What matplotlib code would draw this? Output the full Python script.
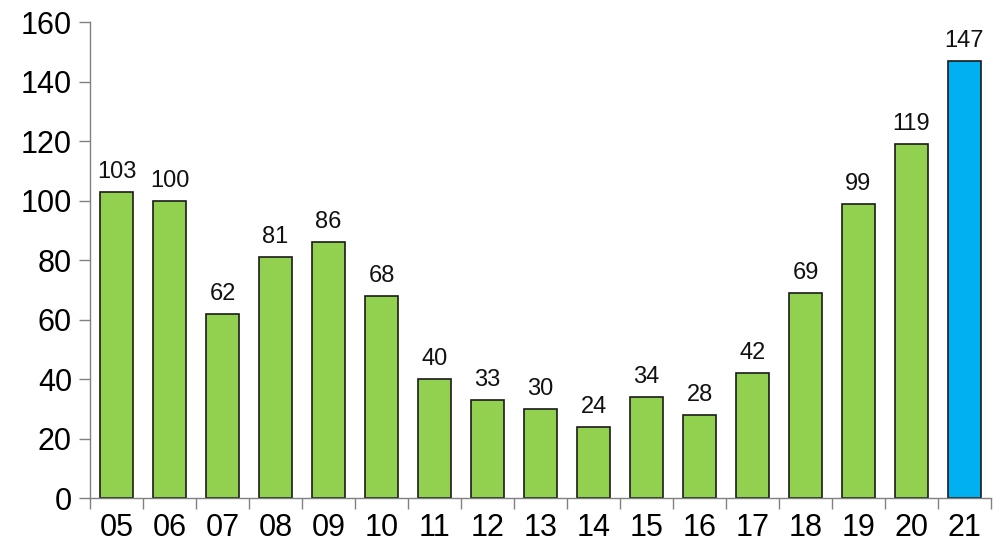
import matplotlib
matplotlib.use('Agg')
import matplotlib.pyplot as plt
import numpy as np

plt.rcParams['font.family'] = ['Liberation Sans', 'DejaVu Sans']

years = ['05', '06', '07', '08', '09', '10', '11', '12', '13', '14', '15', '16', '17', '18', '19', '20', '21']
values = [103, 100, 62, 81, 86, 68, 40, 33, 30, 24, 34, 28, 42, 69, 99, 119, 147]

colors = ['#92D050'] * (len(values) - 1) + ['#00B0F0']

fig = plt.figure(figsize=(10, 5.54), dpi=100)
ax = fig.add_axes([0.09, 0.101, 0.901, 0.859])

x = np.arange(len(values))
ax.bar(x, values, width=0.64, color=colors, edgecolor='#1a1a1a', linewidth=1.2, zorder=2)

for xi, v in zip(x, values):
    ax.text(xi, v + 3, str(v), ha='center', va='bottom', fontsize=17, color='#111111')

ax.set_xlim(-0.5, len(values) - 0.5)
ax.set_ylim(0, 160)
ax.set_yticks(range(0, 161, 20))
ax.tick_params(axis='y', labelsize=22, length=8, width=1, color='#808080', pad=5)

# category labels centred, tick marks between categories
ax.set_xticks(x)
ax.set_xticklabels(years)
ax.set_xticks(np.arange(-0.5, len(values)), minor=True)
ax.tick_params(axis='x', which='major', length=0, labelsize=22, pad=11)
ax.tick_params(axis='x', which='minor', length=8, width=1, color='#808080')

for s in ['top', 'right']:
    ax.spines[s].set_visible(False)
for s in ['left', 'bottom']:
    ax.spines[s].set_color('#808080')
    ax.spines[s].set_linewidth(1)

fig.savefig('out.png', dpi=100)
